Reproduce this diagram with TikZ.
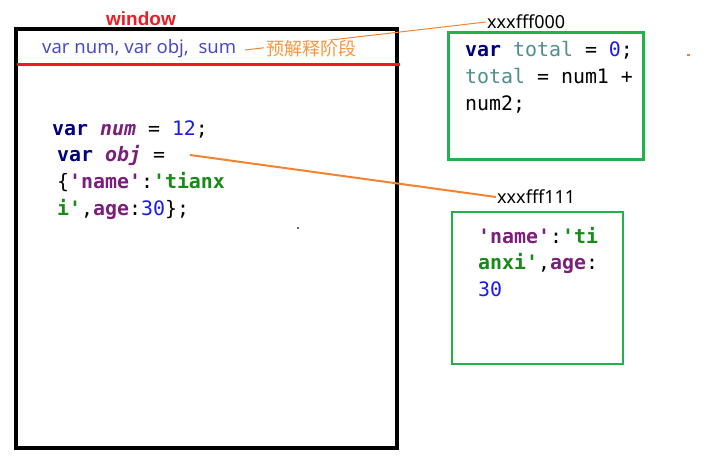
\documentclass[tikz,border=0pt]{standalone}
\usepackage{fontspec}
\setmainfont{Noto Sans}
\setmonofont{DejaVu Sans Mono}
\newfontfamily\cjkfont{Noto Sans CJK SC}
\newfontfamily\labelfont{Liberation Sans}
\usepackage{tikz}
\usetikzlibrary{positioning}
\definecolor{winred}{HTML}{ED1C24}
\definecolor{boxgreen}{HTML}{22B14C}
\definecolor{linkorange}{HTML}{F58230}
\definecolor{hintorange}{HTML}{F7973F}
\definecolor{declblue}{HTML}{4B4BC3}
\definecolor{kwnavy}{HTML}{00007F}
\definecolor{idteal}{HTML}{4E8E8C}
\definecolor{strpurple}{HTML}{7B1F7B}
\definecolor{strgreen}{HTML}{178A17}
\definecolor{numblue}{HTML}{1A1AF0}
\tikzstyle{code} = [anchor=base west, inner sep=0pt, font=\ttfamily\fontsize{19.9}{27}\selectfont]
\tikzstyle{addr} = [anchor=west, inner sep=1pt, font=\fontsize{18}{20}\selectfont]
\tikzstyle{heapbox} = [draw=boxgreen, line width=3pt]
\tikzstyle{link} = [draw, color=linkorange]
\newcommand{\kw}[1]{\textcolor{kwnavy}{\textbf{#1}}}
\newcommand{\vr}[1]{\textcolor{strpurple}{\textbf{\textit{#1}}}}
\newcommand{\sq}[1]{\textcolor{strpurple}{\textbf{#1}}}
\newcommand{\sg}[1]{\textcolor{strgreen}{\textbf{#1}}}
\newcommand{\nb}[1]{\textcolor{numblue}{#1}}
\newcommand{\tl}[1]{\textcolor{idteal}{#1}}

\begin{document}
\begin{tikzpicture}[x=1pt, y=-1pt]
		\useasboundingbox (0,0) rectangle (721,465);
		% window scope
		\draw[line width=4pt] (16,29) rectangle (397,448);
		\draw[winred, line width=3pt] (17,65) -- (400,65);
		\node[font=\labelfont\bfseries\fontsize{19}{20}\selectfont, text=winred] (window) at (141,19) {window};
		\node[font=\fontsize{18.5}{20}\selectfont, text=declblue, anchor=west, inner sep=0pt] (decl) at (42,49) {var num, var obj,~ sum};
		\coordinate (declend) at (245,50);
		% heap boxes
		\draw[heapbox] (448,33) rectangle (643,160);
		\draw[heapbox, line width=2.5pt] (452,212) rectangle (623,364);
		\node[addr] (addr0) at (486,22) {xxxfff000};
		\node[addr] (addr1) at (496,197) {xxxfff111};
		% links
		\path [link, line width=1pt] (declend) -- (addr0.west);
		\node[font=\cjkfont\fontsize{18}{20}\selectfont, text=hintorange, fill=white, inner xsep=2pt, inner ysep=1pt, anchor=west] (stage) at (264,49) {预解释阶段};
		\coordinate (objref) at (190,155);
		\path [link, line width=2pt] (objref) -- (addr1.west);
		% code in window
		\node[code] (l1) at (52,136) {\kw{var} \vr{num} = \nb{12};};
		\node[code] (l2) at (57,162) {\kw{var} \vr{obj} =};
		\node[code] (l3) at (57,189) {\{\sq{'name'}:\sg{'tianx}};
		\node[code] (l4) at (57,216) {\sg{i'},\sq{age}:\nb{30}\};};
		% code in heap
		\node[code] (t1) at (465,57) {\kw{var} \tl{total} = \nb{0};};
		\node[code] (t2) at (465,84) {\tl{total} = num1 +};
		\node[code] (t3) at (465,111) {num2;};
		\node[code] (o1) at (478,244) {\sq{'name'}:\sg{'ti}};
		\node[code] (o2) at (478,270) {\sg{anxi'},\sq{age}:};
		\node[code] (o3) at (478,297) {\nb{30}};
		% specks
		\fill[linkorange] (687,54) rectangle (690,56);
		\fill[black!60] (297,227) rectangle (299,229);
	\end{tikzpicture}
\end{document}
